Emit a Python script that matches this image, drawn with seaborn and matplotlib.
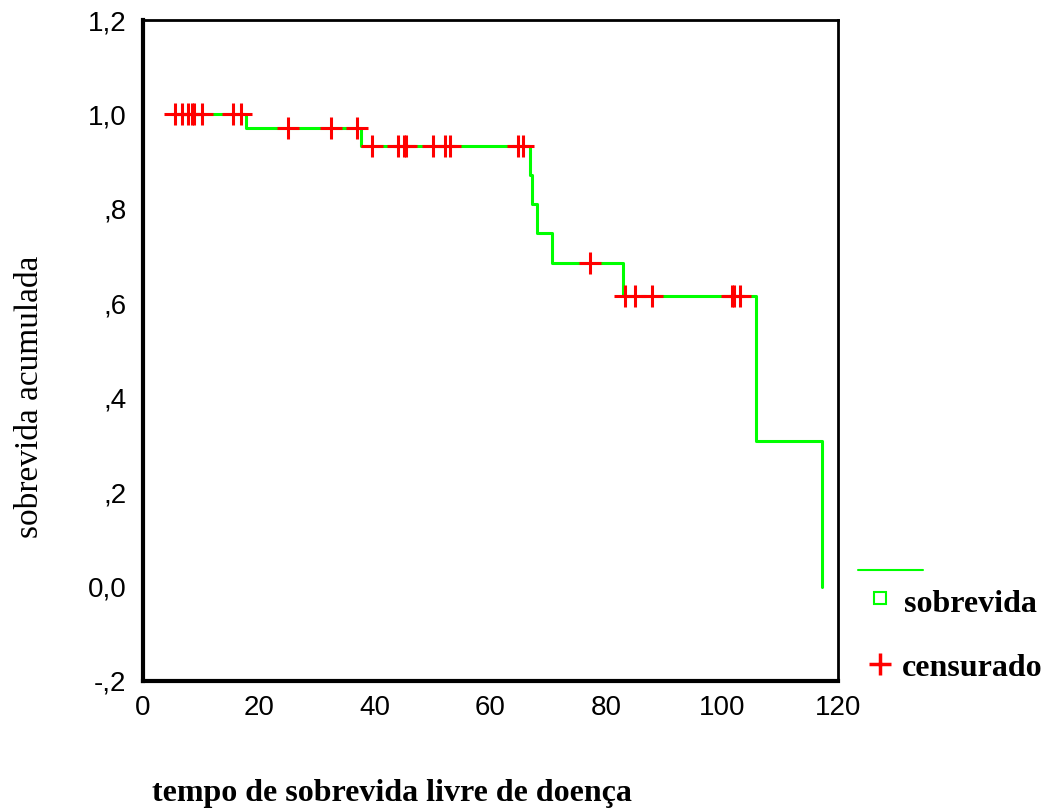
import matplotlib
matplotlib.use("Agg")
import matplotlib.pyplot as plt
from matplotlib.lines import Line2D
import seaborn as sns
import pandas as pd
import numpy as np

# Kaplan-Meier step points (time, cumulative survival after event)
step_times = [5.5, 17.7, 37.7, 66.8, 67.1, 68.0, 70.6, 82.8, 105.9, 117.2]
step_surv = [1.0, 0.971, 0.933, 0.871, 0.81, 0.748, 0.685, 0.615, 0.308, 0.0]

# censored observation times
censored_times = [5.5, 6.7, 7.7, 8.4, 8.8, 10.2, 15.5, 16.9,
                  25.1, 32.5, 37.0,
                  39.6, 44.1, 45.1, 45.4, 50.1, 52.2, 53.0, 64.7, 65.6,
                  77.2,
                  83.2, 84.9, 87.8, 101.7, 102.0, 103.1]

x_ticks = [0, 20, 40, 60, 80, 100, 120]
y_ticks = [-0.2, 0.0, 0.2, 0.4, 0.6, 0.8, 1.0, 1.2]
y_tick_labels = ["-,2", "0,0", ",2", ",4", ",6", ",8", "1,0", "1,2"]

sns.set_style("white")
plt.rcParams['font.family'] = ['Liberation Sans', 'DejaVu Sans']
plt.rcParams['text.color'] = 'black'
plt.rcParams['xtick.color'] = 'black'
plt.rcParams['ytick.color'] = 'black'
plt.rcParams['xtick.labelcolor'] = 'black'
plt.rcParams['ytick.labelcolor'] = 'black'

GREEN = "#00FF00"
RED = "#FF0000"

steps = pd.DataFrame({"t": step_times, "s": step_surv})

def surv_at(t):
    idx = np.searchsorted(step_times, t, side="right") - 1
    return step_surv[max(idx, 0)]

cens = pd.DataFrame({"t": censored_times, "s": [surv_at(t) for t in censored_times]})

fig = plt.figure(figsize=(10.45, 8.09), dpi=100)
ax = fig.add_axes([143/1045, 1-681/809, (838-143)/1045, (681-20)/809])

sns.lineplot(data=steps, x="t", y="s", ax=ax, color=GREEN, lw=2.2,
             drawstyle="steps-post", estimator=None, sort=False, zorder=2)
sns.scatterplot(data=cens, x="t", y="s", ax=ax, marker="+", color=RED,
                s=260, linewidth=2.2, zorder=3)

ax.set_xlim(0, 120)
ax.set_ylim(-0.2, 1.2)
ax.set_xticks(x_ticks)
ax.set_xticklabels([str(v) for v in x_ticks])
ax.set_yticks(y_ticks)
ax.set_yticklabels(y_tick_labels)
ax.tick_params(axis="both", direction="out", length=4, width=4, color="black",
               labelcolor="black", labelsize=20, pad=8)
ax.tick_params(axis="x", pad=6)
for sp in ax.spines.values():
    sp.set_visible(True)
    sp.set_color("black")
    sp.set_linewidth(2)
ax.spines["left"].set_linewidth(3)
ax.spines["bottom"].set_linewidth(3)
ax.set_xlabel("")
ax.set_ylabel("")
ax.grid(False)

fig.text(30/1045, 1-397/809, "sobrevida acumulada", rotation=90,
         ha="center", va="center", fontsize=24, family="Liberation Serif",
         color="black")
fig.text(392/1045, 1-794/809, "tempo de sobrevida livre de doença",
         ha="center", va="center", fontsize=23, fontweight="bold",
         family="Liberation Serif", color="black")

# legend (outside, right)
fig.add_artist(Line2D([858/1045, 923/1045], [1-570/809, 1-570/809],
                      transform=fig.transFigure, color=GREEN, lw=1.5))
fig.add_artist(Line2D([880/1045], [1-598/809], transform=fig.transFigure,
                      marker="s", markersize=8, markerfacecolor="none",
                      markeredgecolor=GREEN, markeredgewidth=1.5, linestyle="none"))
fig.add_artist(Line2D([880/1045], [1-664/809], transform=fig.transFigure,
                      marker="+", markersize=16, markeredgecolor=RED,
                      markeredgewidth=2.5, linestyle="none"))
fig.text(904/1045, 1-604/809, "sobrevida", ha="left", va="center",
         fontsize=23, fontweight="bold", family="Liberation Serif", color="black")
fig.text(902/1045, 1-669/809, "censurado", ha="left", va="center",
         fontsize=23, fontweight="bold", family="Liberation Serif", color="black")

fig.savefig("out.png", dpi=100, facecolor="white")
